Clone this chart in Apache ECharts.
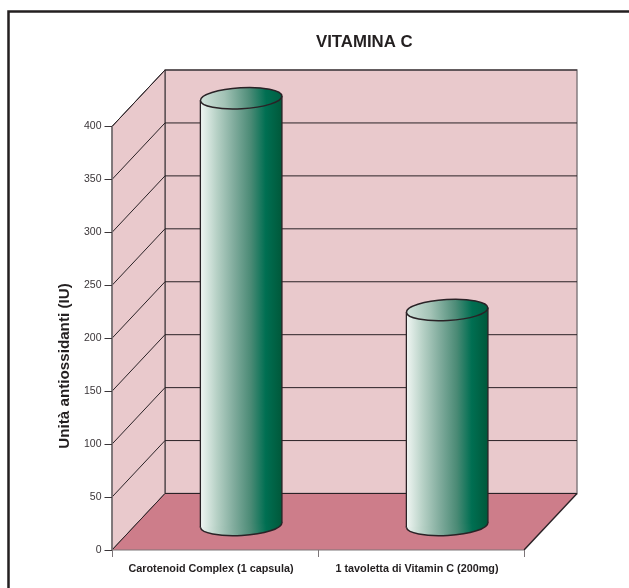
<!DOCTYPE html>
<html>
<head>
<meta charset="utf-8">
<style>
  html, body { margin: 0; padding: 0; background: #fff; }
  #chart { width: 629px; height: 588px; }
</style>
<script src="https://cdn.jsdelivr.net/npm/echarts@6/dist/echarts.min.js"></script>
</head>
<body>
<div id="chart"></div>
<script>
// dati
const categories = ['Carotenoid Complex (1 capsula)', '1 tavoletta di Vitamin C (200mg)']
const values = [403, 203]
const yTicks = [0, 50, 100, 150, 200, 250, 300, 350, 400]

const FONT = '"Liberation Sans", Arial, sans-serif'
const WALL = '#e9c9cc'
const FLOOR = '#cd7d8a'
const LINE = '#2a2226'
const AXIS = '#7d7679'
// spostamento prospettico della parete di fondo (px)
const DX = 53
const DY = -56.5

const BODY_STOPS = [
  { offset: 0, color: '#f0f6f3' },
  { offset: 0.2, color: '#b7d1c6' },
  { offset: 0.42, color: '#7eaa9b' },
  { offset: 0.62, color: '#4a8a75' },
  { offset: 0.8, color: '#006f52' },
  { offset: 1, color: '#00583a' },
]
const TOP_STOPS = [
  { offset: 0, color: '#d3e3dc' },
  { offset: 0.3, color: '#a3c3b6' },
  { offset: 0.6, color: '#4f8d79' },
  { offset: 0.8, color: '#006f52' },
  { offset: 1, color: '#005f42' },
]
const grad = colorStops => new echarts.graphic.LinearGradient(0, 0, 1, 0, colorStops)

const chart = echarts.init(document.getElementById('chart'), null, { renderer: 'canvas' })

// pareti e pavimento, agganciati alle scale degli assi
function renderWalls(params, api) {
  const lastCat = categories.length - 1
  const band = api.size([1, 0])[0]
  const [x0, y0] = api.coord([0, 0])
  const left = x0 - band / 2
  const right = api.coord([lastCat, 0])[0] + band / 2
  const yTop = api.coord([0, yTicks[yTicks.length - 1]])[1]
  const children = [
    { type: 'polygon', shape: { points: [[left + DX, yTop + DY], [right + DX, yTop + DY], [right + DX, y0 + DY], [left + DX, y0 + DY]] },
      style: { fill: WALL, stroke: AXIS, lineWidth: 1.4 } },
    { type: 'polygon', shape: { points: [[left, yTop], [left + DX, yTop + DY], [left + DX, y0 + DY], [left, y0]] },
      style: { fill: WALL, stroke: LINE, lineWidth: 1 } },
    { type: 'polygon', shape: { points: [[left, y0], [left + DX, y0 + DY], [right + DX, y0 + DY], [right, y0]] },
      style: { fill: FLOOR, stroke: null } },
  ]
  yTicks.forEach(t => {
    if (t === 0) return
    const y = api.coord([0, t])[1]
    children.push({ type: 'polyline', shape: { points: [[left, y], [left + DX, y + DY], [right + DX, y + DY]] },
      style: { fill: null, stroke: LINE, lineWidth: 1 } })
  })
  children.push(
    { type: 'line', shape: { x1: left + DX, y1: y0 + DY, x2: right + DX, y2: y0 + DY }, style: { stroke: LINE, lineWidth: 1 } },
    { type: 'line', shape: { x1: left, y1: y0, x2: left + DX, y2: y0 + DY }, style: { stroke: LINE, lineWidth: 1 } },
    { type: 'line', shape: { x1: right, y1: y0, x2: right + DX, y2: y0 + DY }, style: { stroke: LINE, lineWidth: 1.4 } },
    { type: 'line', shape: { x1: left, y1: y0, x2: right, y2: y0 }, style: { stroke: AXIS, lineWidth: 1 } },
  )
  return { type: 'group', children }
}

// cilindri: base e cima leggermente inclinate
function renderCylinder(params, api) {
  const [cx, yBase] = api.coord([api.value(0), 0])
  const yVal = api.coord([api.value(0), api.value(1)])[1]
  const band = api.size([1, 0])[0]
  const rx = band * 0.198
  const ry = 10.5
  const tilt = 2.3
  const mx = cx + band * 0.127
  const offY = -25
  const yb = yBase + offY
  const yt = yVal + offY
  const ell = (y, stops, z) => ({
    type: 'ellipse',
    shape: { cx: mx, cy: y, rx, ry },
    rotation: Math.atan2(tilt, rx),
    originX: mx,
    originY: y,
    style: { fill: grad(stops), stroke: LINE, lineWidth: 1.5 },
    z2: z,
  })
  return {
    type: 'group',
    children: [
      ell(yb, BODY_STOPS, 1),
      { type: 'polygon', z2: 2,
        shape: { points: [[mx - rx, yt + tilt], [mx + rx, yt - tilt], [mx + rx, yb - tilt], [mx - rx, yb + tilt]] },
        style: { fill: grad(BODY_STOPS), stroke: null } },
      { type: 'line', z2: 3, shape: { x1: mx - rx, y1: yt + tilt, x2: mx - rx, y2: yb + tilt }, style: { stroke: LINE, lineWidth: 1.3 } },
      { type: 'line', z2: 3, shape: { x1: mx + rx, y1: yt - tilt, x2: mx + rx, y2: yb - tilt }, style: { stroke: LINE, lineWidth: 1.3 } },
      ell(yt, TOP_STOPS, 4),
    ],
  }
}

chart.setOption({
  animation: false,
  backgroundColor: '#fff',
  graphic: [
    {
      // cornice: solo lato sinistro e superiore, il resto esce dall'immagine
      type: 'polyline',
      shape: { points: [[8.5, 588], [8.5, 11.5], [629, 11.5]] },
      style: { fill: null, stroke: '#231f20', lineWidth: 2.5 },
      silent: true,
    },
    {
      type: 'text',
      x: 65,
      y: 366,
      rotation: Math.PI / 2,
      style: {
        text: 'Unità antiossidanti (IU)',
        align: 'center',
        verticalAlign: 'middle',
        fill: '#231f20',
        font: 'bold 15.2px ' + FONT,
      },
    },
  ],
  title: {
    text: 'VITAMINA C',
    left: 311,
    top: 29,
    textStyle: { fontFamily: FONT, fontSize: 16.8, fontWeight: 'bold', color: '#231f20' },
  },
  grid: { left: 112, top: 126.5, width: 412, height: 423.5 },
  xAxis: {
    type: 'category',
    data: categories,
    axisLine: { show: false },
    axisTick: { show: true, alignWithLabel: false, length: 7, lineStyle: { color: AXIS, width: 1 } },
    axisLabel: { interval: 0, color: '#231f20', fontFamily: FONT, fontSize: 10.8, fontWeight: 'bold', margin: 14, padding: [0, 8, 0, 0] },
    z: 10,
  },
  yAxis: {
    type: 'value',
    min: 0,
    max: 400,
    interval: 50,
    axisLine: { show: true, lineStyle: { color: AXIS, width: 1.6 } },
    axisTick: { show: true, length: 7.5, lineStyle: { color: '#3a3538', width: 1 } },
    axisLabel: { color: '#3a3538', fontFamily: FONT, fontSize: 10.5, margin: 10.5 },
    splitLine: { show: false },
    z: 10,
  },
  series: [
    { type: 'custom', coordinateSystem: 'cartesian2d', renderItem: renderWalls, data: [[0, 0]], silent: true, z: 1, clip: false },
    { type: 'custom', coordinateSystem: 'cartesian2d', renderItem: renderCylinder,
      data: values.map((v, i) => [i, v]), encode: { x: 0, y: 1 }, z: 2, clip: false },
  ],
})
</script>
</body>
</html>
